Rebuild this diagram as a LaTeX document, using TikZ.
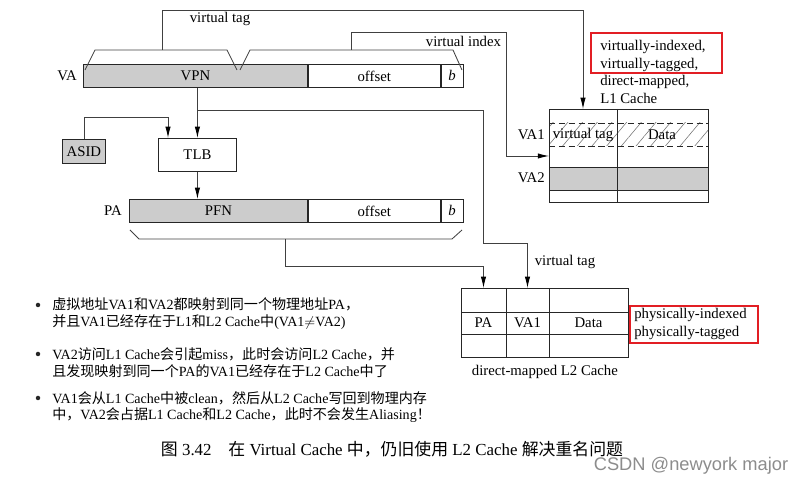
\documentclass[tikz,border=0pt]{standalone}
\usepackage{fontspec}
\setmainfont{Liberation Serif}
\newfontfamily\cjk{Noto Sans CJK SC}
\newfontfamily\wmfont{Liberation Sans}
\usetikzlibrary{arrows.meta,patterns.meta,positioning,calc}

\newcommand{\pxu}{0.025cm}
\newcommand{\zh}[1]{{\cjk #1}}
\definecolor{cellgray}{RGB}{204,204,204}
\definecolor{notered}{RGB}{226,30,36}

\begin{document}
\begin{tikzpicture}[x=0.025cm, y=-0.025cm, font=\fontsize{10.5}{12.5}\selectfont,
  line/.style={black!75, line width=0.6pt},
  boxline/.style={black!85, line width=0.6pt},
  arr/.style={line, -{Latex[length=8pt,width=3.8pt,black]}},
  cell/.style={draw=black!85, line width=0.6pt, inner sep=0pt, anchor=north west, minimum height=23*\pxu},
  lbl/.style={inner sep=0pt},
  redbox/.style={draw=notered, line width=1.3pt},
  dot/.style={circle, fill=black!85, inner sep=0pt, minimum size=3.2pt},
  bullettext/.style={inner sep=0pt, anchor=west, align=left, font=\fontsize{10}{12}\selectfont}]

\useasboundingbox (0,0) rectangle (805,484);

% virtual address
\node[cell, fill=cellgray, minimum width=224*\pxu] (vpn) at (83,64) {VPN};
\node[cell, minimum width=132*\pxu] (vaoff) at (vpn.north east) {offset};
\node[cell, minimum width=22*\pxu] (vab) at (vaoff.north east) {\textit{b}};
\node[lbl, left=6*\pxu of vpn] (va) {VA};

% TLB and ASID
\node[cell, minimum width=78*\pxu, minimum height=33*\pxu] (tlb) at (158,138) {TLB};
\node[cell, fill=cellgray, minimum width=43*\pxu, minimum height=24*\pxu] (asid) at (62,139) {ASID};

% physical address
\node[cell, fill=cellgray, minimum width=178*\pxu] (pfn) at (129,199) {PFN};
\node[cell, minimum width=132*\pxu] (paoff) at (pfn.north east) {offset};
\node[cell, minimum width=22*\pxu] (pab) at (paoff.north east) {\textit{b}};
\node[lbl, left=7*\pxu of pfn] (pa) {PA};

% braces
\draw[line] (85,70) -- (95,50) -- (227,50) -- (237,70);
\draw[line] (240,70) -- (250,50) -- (453,50) -- (462,70);
\draw[line] (130,230) -- (139,239) -- (452,239) -- (462,230);
\coordinate (tagtip) at (162,50);
\coordinate (idxtip) at (351,50);
\coordinate (patip) at (285,239);

% L1 cache
\fill[pattern={Lines[angle=50,distance=8pt,line width=0.4pt]}, pattern color=black!55] (549,123) rectangle (708,146);
\fill[cellgray] (549,167) rectangle (708,190);
\node[cell, minimum width=159*\pxu, minimum height=93*\pxu] (l1) at (549,109) {};
\draw[boxline, dash pattern=on 4.5pt off 2.5pt] (549,123) -- (708,123) (549,146) -- (708,146);
\draw[boxline] (549,167) -- (708,167) (549,190) -- (708,190) (617,109) -- (617,202);
\node (l1tag) at (583,135) {virtual tag};
\node (l1data) at (662,135) {Data};
\node[lbl, anchor=east] (va1) at (545,135) {VA1};
\node[lbl, anchor=east] (va2) at (545,178) {VA2};

% L2 cache
\node[cell, minimum width=167*\pxu, minimum height=69*\pxu] (l2) at (461,288) {};
\draw[boxline] (461,312) -- (628,312) (461,334) -- (628,334) (506,288) -- (506,357) (549,288) -- (549,357);
\node (l2pa) at (483.5,323) {PA};
\node (l2va) at (527.5,323) {VA1};
\node (l2data) at (588.5,323) {Data};
\node[lbl, below=7*\pxu of l2] (l2name) {direct-mapped L2 Cache};

% connectors
\draw[arr] (tagtip) -- ++(0,-40) -| (l1.north -| l1tag);
\draw[arr] (idxtip) -- ++(0,-18) -| (506,156) -- (l1.west |- 0,156);
\draw[arr] (vpn.south -| tlb.north) -- (tlb.north);
\coordinate (vtjoin) at ($(tlb.north)+(0,-28)$);
\draw[arr] (vtjoin) -| (483,243) -| (l2.north -| l2va);
\draw[arr] (asid.north) -- ++(0,-22) -| ([xshift=10*\pxu]tlb.north west);
\draw[arr] (tlb.south) -- (tlb.south |- pfn.north);
\draw[arr] (patip) -- ++(0,27) -| (l2.north -| l2pa);

% labels
\node (tagname) at (220,19) {virtual tag};
\node[anchor=east] (idxname) at (506,41) {virtual index};
\node (l2tagname) at (565,262) {virtual tag};

% notes
\node[lbl, anchor=north west, align=left] (l1note) at (600,40) {virtually-indexed,\\virtually-tagged,\\direct-mapped,\\L1 Cache};
\draw[redbox] (591,33) rectangle (722,73);
\node[lbl, anchor=west, align=left] (l2note) at (634,324) {physically-indexed\\physically-tagged};
\draw[redbox] (630,306) rectangle (758,343);

% bullets
\node[dot] (d1) at (38,305) {};
\node[bullettext] (p1) at (52,314) {\zh{虚拟地址}VA1\zh{和}VA2\zh{都映射到同一个物理地址}PA\zh{，}\\
  \zh{并且}VA1\zh{已经存在于}L1\zh{和}L2 Cache\zh{中}(VA1$\neq$VA2)};
\node[dot] (d2) at (38,354) {};
\node[bullettext] (p2) at (52,363) {VA2\zh{访问}L1 Cache\zh{会引起}miss\zh{，此时会访问}L2 Cache\zh{，并}\\
  \zh{且发现映射到同一个}PA\zh{的}VA1\zh{已经存在于}L2 Cache\zh{中了}};
\node[dot] (d3) at (38,398) {};
\node[bullettext] (p3) at (52,407) {VA1\zh{会从}L1 Cache\zh{中被}clean\zh{，然后从}L2 Cache\zh{写回到物理内存}\\
  \zh{中，}VA2\zh{会占据}L1 Cache\zh{和}L2 Cache\zh{，此时不会发生}Aliasing\zh{！}};

% caption
\node[font=\fontsize{12}{14}\selectfont] (caption) at (392,449) {\zh{图} 3.42\quad \zh{在} Virtual Cache \zh{中，仍旧使用} L2 Cache \zh{解决重名问题}};
\node[text=black!45, font=\wmfont\fontsize{13}{15}\selectfont] (mark) at (691,466) {CSDN @newyork major};

\end{tikzpicture}
\end{document}
